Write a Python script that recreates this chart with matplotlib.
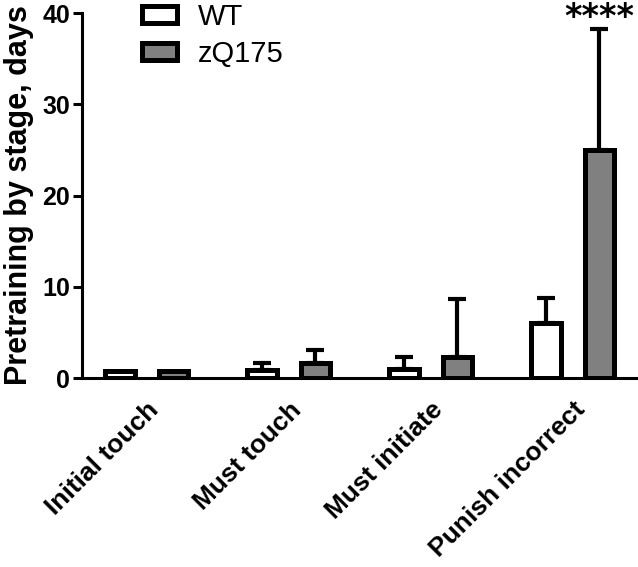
import numpy as np
import matplotlib
matplotlib.use("Agg")
import matplotlib.pyplot as plt

stages = ["Initial touch", "Must touch", "Must initiate", "Punish incorrect"]
wt_mean = [0.75, 0.9, 1.0, 6.0]
wt_err = [0.0, 0.7, 1.25, 2.8]
zq_mean = [0.75, 1.6, 2.3, 25.0]
zq_err = [0.0, 1.5, 6.4, 13.2]

plt.rcParams['font.family'] = ['Liberation Sans', 'DejaVu Sans']

fig = plt.figure(figsize=(6.38, 5.67), dpi=100)
ax = fig.add_axes([0.1285, 0.3333, 0.8715, 0.6437])

x = np.arange(len(stages))
off = 0.188
w = 0.205
lw = 3.6

ax.bar(x - off, wt_mean, w, color="white", edgecolor="black", linewidth=lw, label="WT", zorder=3)
ax.bar(x + off, zq_mean, w, color="#808080", edgecolor="black", linewidth=lw, label="zQ175", zorder=3)
for xs, m, e in [(x - off, wt_mean, wt_err), (x + off, zq_mean, zq_err)]:
    m = np.array(m)
    e = np.array(e)
    mask = e > 0
    ax.errorbar(xs[mask], m[mask], yerr=[np.zeros(mask.sum()), e[mask]],
                fmt="none", ecolor="black", elinewidth=3, capsize=6.5, capthick=3, zorder=2)

# significance stars
ax.text(3 + off, 41.3, "****", ha="center", va="top", fontsize=24,
        fontweight="bold", family="DejaVu Sans", clip_on=False)

ax.set_xlim(-0.456, 3.46)
ax.set_ylim(0, 40)
ax.set_yticks([0, 10, 20, 30, 40])
ax.set_xticks(x)
ax.set_xticklabels(stages, rotation=45, ha="right", rotation_mode="anchor",
                   fontsize=19, fontweight="bold")
for t in ax.get_yticklabels():
    t.set_fontsize(18)
    t.set_fontweight("bold")
ax.set_ylabel("Pretraining by stage, days", fontsize=22, fontweight="bold", labelpad=6)
ax.spines["top"].set_visible(False)
ax.spines["right"].set_visible(False)
ax.spines["left"].set_linewidth(2.2)
ax.spines["bottom"].set_linewidth(2.2)
ax.tick_params(axis="y", width=2.2, length=6.5, pad=2)
ax.tick_params(axis="x", length=0, pad=14)

ax.legend(loc="upper left", bbox_to_anchor=(142 / 638, 1 - 3 / 567), bbox_transform=fig.transFigure,
          frameon=False, fontsize=21, borderpad=0, borderaxespad=0,
          handlelength=1.2, handleheight=0.52, labelspacing=0.3, handletextpad=0.7)

fig.savefig("out.png", dpi=100)
